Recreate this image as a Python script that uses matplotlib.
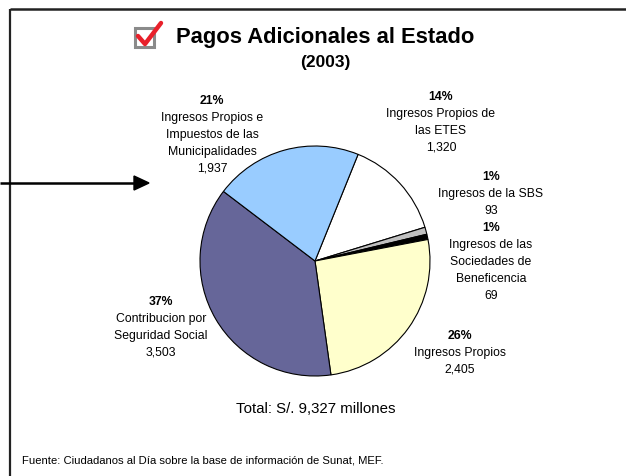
import matplotlib
matplotlib.use('Agg')
import matplotlib.pyplot as plt
from matplotlib.patches import Rectangle, Polygon

plt.rcParams['font.family'] = ['Liberation Sans', 'DejaVu Sans']

# data
names = ['Ingresos Propios de\nlas ETES', 'Ingresos de la SBS',
         'Ingresos de las\nSociedades de\nBeneficencia', 'Ingresos Propios',
         'Contribucion por\nSeguridad Social',
         'Ingresos Propios e\nImpuestos de las\nMunicipalidades']
values = [1320, 93, 69, 2405, 3503, 1937]
pcts = ['14%', '1%', '1%', '26%', '37%', '21%']
val_labels = ['1,320', '93', '69', '2,405', '3,503', '1,937']
colors = ['#FFFFFF', '#C0C0C0', '#000000', '#FFFFCC', '#666699', '#99CCFF']

W, H = 626, 477
fig = plt.figure(figsize=(W / 100, H / 100), dpi=100)

# pixel coordinate layer
ax = fig.add_axes([0, 0, 1, 1])
ax.set_xlim(0, W)
ax.set_ylim(H, 0)
ax.axis('off')

# pie axes: center (315, 262), radius 115 px
cx, cy, r = 315, 262, 115
pax = fig.add_axes([(cx - r) / W, (H - cy - r) / H, 2 * r / W, 2 * r / H])
pax.pie(values, colors=colors, startangle=68, counterclock=False,
        wedgeprops=dict(edgecolor='black', linewidth=0.8))
pax.set_xlim(-1, 1)
pax.set_ylim(-1, 1)
pax.axis('off')

# frame lines (top and left only)
ax.plot([10, W], [10, 10], color='#222222', lw=1.8, solid_capstyle='butt')
ax.plot([10, 10], [10, H], color='#222222', lw=1.6, solid_capstyle='butt')

# title with check box icon
ax.add_patch(Rectangle((135, 29), 19, 19, facecolor='white', edgecolor='#8a8a8a', lw=2.2))
ax.plot([138, 145, 161], [37, 45, 24], color='#E8202A', lw=3.2, solid_capstyle='round',
        solid_joinstyle='round')
ax.text(325, 38, 'Pagos Adicionales al Estado', ha='center', va='center',
        fontsize=15.8, fontweight='bold')
ax.text(325, 63, '(2003)', ha='center', va='center', fontsize=12.5, fontweight='bold')

# slice labels
label_pos = [(441, 97), (491, 177), (491, 228), (460, 336), (161, 302), (212, 101)]
step = 17
for (x, y), p, n, v in zip(label_pos, pcts, names, val_labels):
    ax.text(x, y, p, ha='center', va='center', fontsize=8.8, fontweight='bold')
    lines = n.split('\n') + [v]
    for i, ln in enumerate(lines):
        ax.text(x, y + step * (i + 1), ln, ha='center', va='center', fontsize=8.8)

# arrow
ax.plot([0, 136], [184, 184], color='black', lw=1.8, solid_capstyle='butt')
ax.add_patch(Polygon([[134, 177], [149, 184], [134, 191]], closed=True, color='black'))

ax.text(316, 409, 'Total: S/. 9,327 millones', ha='center', va='center', fontsize=10.8)
ax.text(22, 461, 'Fuente: Ciudadanos al Día sobre la base de información de Sunat, MEF.',
        ha='left', va='center', fontsize=8.1)

fig.savefig('out.png', dpi=100)
